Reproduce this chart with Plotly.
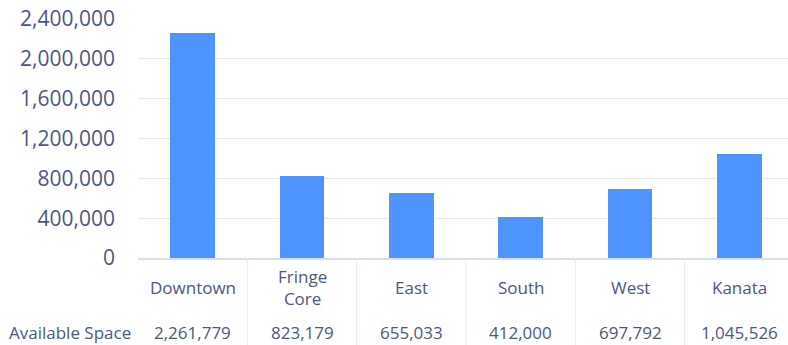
import plotly.graph_objects as go

categories = ["Downtown", "Fringe Core", "East", "South", "West", "Kanata"]
category_labels = ["Downtown", "Fringe<br>Core", "East", "South", "West", "Kanata"]
available_space = [2261779, 823179, 655033, 412000, 697792, 1045526]
row_label = "Available Space"
y_ticks = [0, 400000, 800000, 1200000, 1600000, 2000000, 2400000]

TEXT = "#4b5883"
FONT = "Open Sans"

fig = go.Figure()
fig.add_trace(go.Bar(
    x=list(range(len(categories))), y=available_space,
    marker=dict(color="#4d94ff", line=dict(width=0)),
    width=0.41, hoverinfo="skip",
))

annotations = []
shapes = []
for i, (lab, v) in enumerate(zip(category_labels, available_space)):
    annotations.append(dict(x=i, y=0, xref="x", yref="y domain", yanchor="middle",
                            yshift=-29, text=lab, showarrow=False, align="center",
                            font=dict(family=FONT, size=17, color=TEXT)))
    annotations.append(dict(x=i, y=0, xref="x", yref="y domain", yanchor="middle",
                            yshift=-74, text=f"{v:,}", showarrow=False,
                            font=dict(family=FONT, size=17, color=TEXT)))
    if i > 0:
        shapes.append(dict(type="line", xref="x", yref="paper", x0=i - 0.5, x1=i - 0.5,
                           y0=0, y1=-1, line=dict(color="#ebebeb", width=1)))

annotations.append(dict(x=0, xref="paper", y=0, yref="paper", yshift=-74,
                        xshift=-131, text=row_label, showarrow=False,
                        xanchor="left", yanchor="middle",
                        font=dict(family=FONT, size=17, color=TEXT)))

fig.update_layout(
    width=788, height=345,
    margin=dict(l=138, r=0, t=19, b=87, pad=0),
    paper_bgcolor="white", plot_bgcolor="white",
    showlegend=False, bargap=0,
    font=dict(family=FONT, color=TEXT),
    xaxis=dict(range=[-0.5, 5.445], showticklabels=False, showgrid=False,
               zeroline=False, showline=True, linecolor="#dadfe7", linewidth=2,
               ticks="", fixedrange=True),
    yaxis=dict(range=[0, 2400000], tickvals=y_ticks,
               ticktext=[f"{t:,}" for t in y_ticks],
               tickfont=dict(family=FONT, size=21, color=TEXT),
               showgrid=True, gridcolor="#e6e6e6", gridwidth=1,
               zeroline=False, showline=False, ticks="",
               ticklabelstandoff=22, fixedrange=True),
    annotations=annotations,
    shapes=shapes,
)

fig.write_html("out.html", config={"displayModeBar": False, "staticPlot": True},
               post_script="document.body.style.margin='0';document.body.style.overflow='hidden';")
